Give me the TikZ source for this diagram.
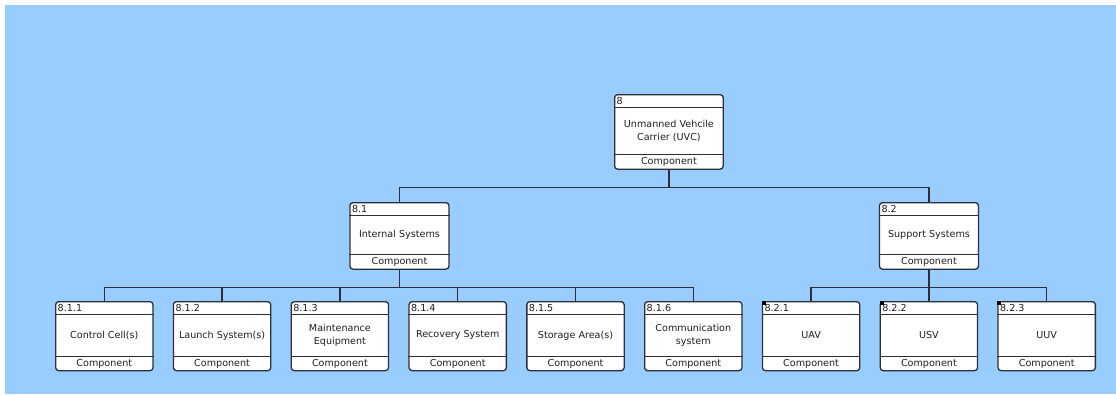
\documentclass[tikz,border=0pt]{standalone}
\usepackage{fontspec}
\setmainfont{DejaVu Sans}
\usetikzlibrary{calc}

\definecolor{canvas}{HTML}{99CCFF}
\definecolor{edge}{HTML}{2E2E38}
\definecolor{ink}{HTML}{1E1E24}

\tikzset{
  comp/.style={draw=edge, line width=1.3pt, fill=white, rounded corners=3pt, inner sep=0pt},
  rule/.style={draw=edge, line width=1pt},
  link/.style={draw=edge, line width=1.3pt},
  txt/.style={font=\fontsize{9.6}{13}\selectfont, inner sep=0pt, align=center, text=ink},
  marker/.style={fill=black},
}

% #1 name, #2 left, #3 top, #4 width, #5 height, #6 number, #7 label
\newcommand\component[7]{%
  \node[comp, anchor=north west, minimum width=#4pt, minimum height=#5pt] (#1) at (#2,-#3) {};
  \draw[rule] ($(#1.north west)+(0,-13.5)$) -- ($(#1.north east)+(0,-13.5)$);
  \draw[rule] ($(#1.south west)+(0,15)$) -- ($(#1.south east)+(0,15)$);
  \node[txt, anchor=west] (#1-num) at ($(#1.north west)+(2.5,-7)$) {#6};
  \node[txt] (#1-lbl) at ($(#1.center)+(0,0.75)$) {#7};
  \node[txt] (#1-kind) at ($(#1.south)+(0,7.5)$) {Component};
}

\begin{document}
\begin{tikzpicture}[x=1pt,y=1pt]
  % page and canvas
  \fill[white] (0,0) rectangle (1116,-394);
  \fill[canvas] (5,-5) rectangle (1116,-394);
  \useasboundingbox (0,0) rectangle (1116,-394);

  % level 0
  \component{root}{614}{94}{108.5}{74.5}{8}{Unmanned Vehcile\\Carrier (UVC)}

  % level 1
  \component{int}{349.3}{202}{99}{66.5}{8.1}{Internal Systems}
  \component{sup}{878.8}{202}{99}{66.5}{8.2}{Support Systems}

  % level 2
  \component{cc}{55}{301}{97.3}{69}{8.1.1}{Control Cell(s)}
  \component{ls}{172.8}{301}{97.3}{69}{8.1.2}{Launch System(s)}
  \component{me}{290.6}{301}{97.3}{69}{8.1.3}{Maintenance\\Equipment}
  \component{rs}{408.4}{301}{97.3}{69}{8.1.4}{Recovery System}
  \component{sa}{526.2}{301}{97.3}{69}{8.1.5}{Storage Area(s)}
  \component{cs}{644}{301}{97.3}{69}{8.1.6}{Communication\\system}
  \component{uav}{761.8}{301}{97.3}{69}{8.2.1}{UAV}
  \component{usv}{879.6}{301}{97.3}{69}{8.2.2}{USV}
  \component{uuv}{997.4}{301}{97.3}{69}{8.2.3}{UUV}

  % corner markers
  \foreach \n in {uav,usv,uuv}
    \fill[marker] (\n.north west) rectangle ++(4,-4);

  % connectors
  \foreach \c in {int,sup}
    \draw[link] (root.south) -- ++(0,-17.5) -| (\c.north);
  \foreach \c in {cc,ls,me,rs,sa,cs}
    \draw[link] (int.south) -- ++(0,-17.5) -| (\c.north);
  \foreach \c in {uav,usv,uuv}
    \draw[link] (sup.south) -- ++(0,-17.5) -| (\c.north);
\end{tikzpicture}
\end{document}
